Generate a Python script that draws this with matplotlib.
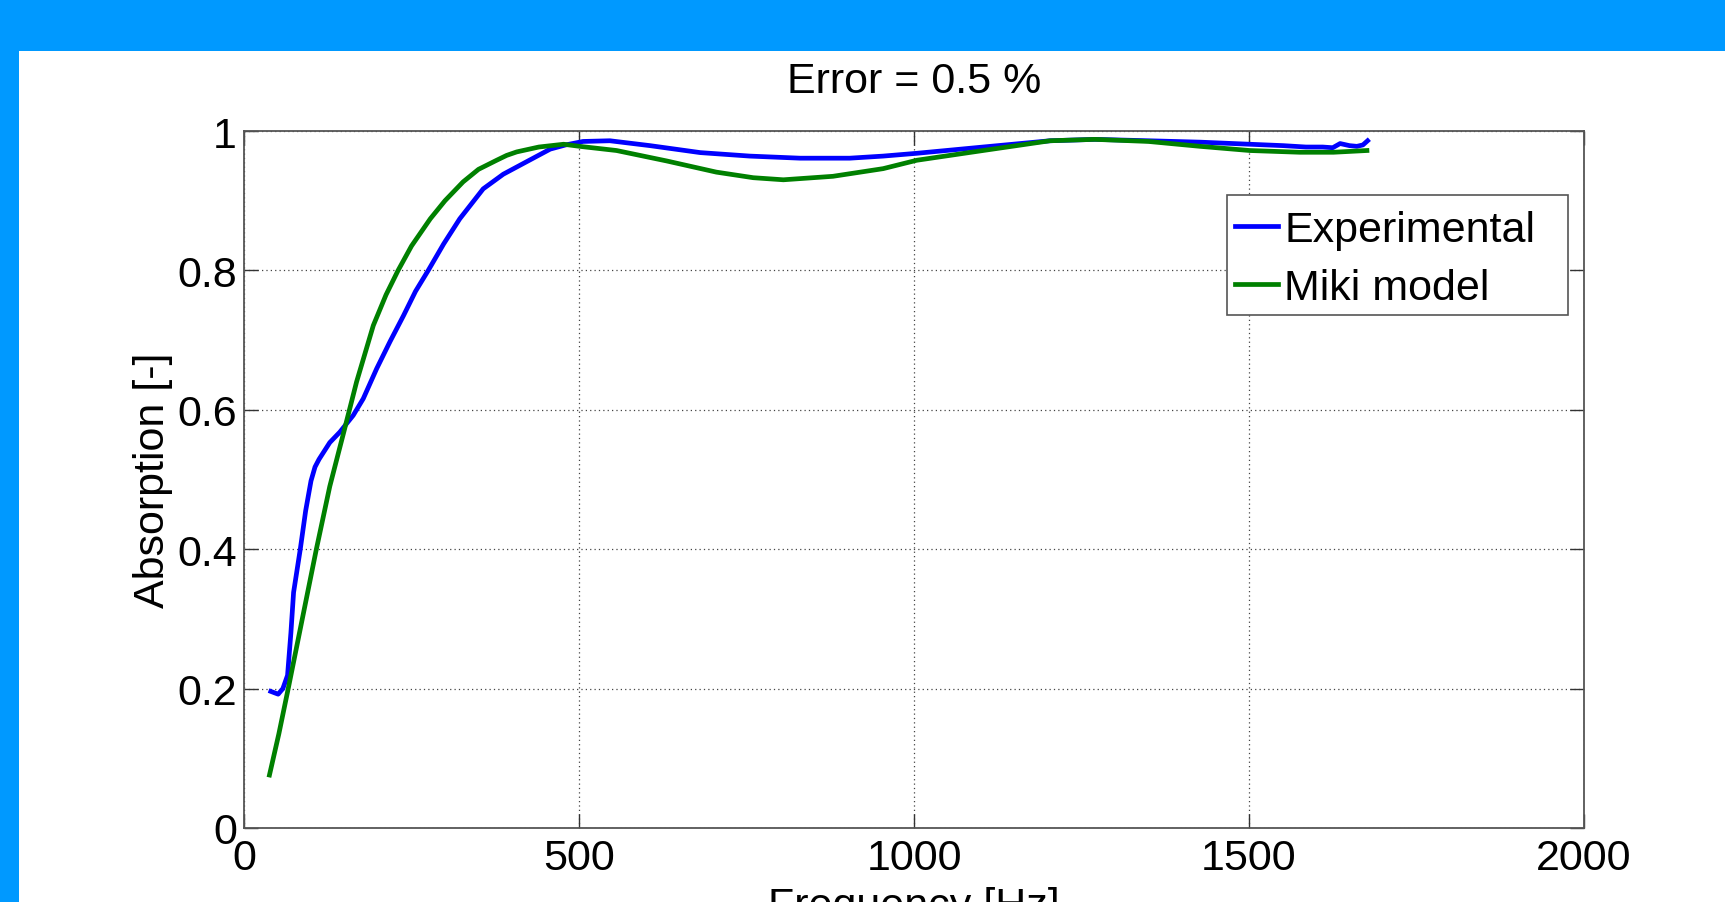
import matplotlib
matplotlib.use("Agg")
import matplotlib.pyplot as plt
from matplotlib.patches import Rectangle

plt.rcParams['font.family'] = ['Liberation Sans', 'DejaVu Sans']

# ---- data ----
exp_freq = [40, 51, 58, 65, 70, 74, 84, 92, 100, 106, 112, 128, 143, 163, 178, 198, 218, 238,
            256, 275, 298, 322, 357, 387, 420, 457, 480, 506, 546, 606, 681, 755, 830, 904,
            954, 1004, 1103, 1203, 1270, 1350, 1427, 1501, 1551, 1585, 1610, 1625, 1636,
            1650, 1661, 1670, 1677]
exp_abs = [0.196, 0.192, 0.200, 0.219, 0.280, 0.338, 0.400, 0.455, 0.498, 0.518, 0.529, 0.553,
           0.568, 0.592, 0.616, 0.659, 0.698, 0.735, 0.770, 0.800, 0.838, 0.874, 0.917, 0.938,
           0.955, 0.974, 0.980, 0.985, 0.986, 0.979, 0.969, 0.964, 0.961, 0.961, 0.964, 0.968,
           0.977, 0.986, 0.988, 0.986, 0.984, 0.981, 0.979, 0.977, 0.977, 0.976, 0.982, 0.979,
           0.978, 0.980, 0.986]

miki_freq = [38, 52, 66, 87, 108, 128, 150, 168, 193, 212, 230, 250, 278, 300, 327, 350, 377,
             392, 407, 440, 477, 501, 556, 631, 705, 760, 805, 879, 954, 1004, 1103, 1203,
             1270, 1350, 1427, 1501, 1576, 1626, 1676]
miki_abs = [0.076, 0.135, 0.200, 0.300, 0.400, 0.490, 0.572, 0.640, 0.721, 0.765, 0.800, 0.835,
            0.874, 0.900, 0.927, 0.945, 0.958, 0.965, 0.970, 0.977, 0.981, 0.978, 0.972, 0.957,
            0.941, 0.933, 0.930, 0.935, 0.946, 0.958, 0.972, 0.986, 0.988, 0.985, 0.978, 0.972,
            0.9695, 0.9695, 0.972]

x_ticks = [0, 500, 1000, 1500, 2000]
x_ticklabels = ['0', '500', '1000', '1500', '2000']
y_ticks = [0, 0.2, 0.4, 0.6, 0.8, 1.0]
y_ticklabels = ['0', '0.2', '0.4', '0.6', '0.8', '1']

title_text = 'Error = 0.5 %'
x_label = 'Frequency [Hz]'
y_label = 'Absorption [-]'
series_labels = ['Experimental', 'Miki model']

# ---- figure ----
W, H = 1725, 903
fig = plt.figure(figsize=(W / 100, H / 100), dpi=100, facecolor='#0099FF')
bg = Rectangle((19 / W, 0), (W - 19) / W, (H - 52) / H,
               transform=fig.transFigure, facecolor='white',
               edgecolor='none', zorder=-10)
fig.add_artist(bg)

ax = fig.add_axes([244 / W, (H - 829) / H, 1340 / W, 697 / H])
ax.set_zorder(1)
ax.set_facecolor('white')

fs = 31
ax.plot(exp_freq, exp_abs, color='#0000FF', lw=3.4, label=series_labels[0], zorder=3)
ax.plot(miki_freq, miki_abs, color='#008000', lw=3.4, label=series_labels[1], zorder=3)

ax.set_xlim(0, 2000)
ax.set_ylim(0, 1)
ax.set_xticks(x_ticks)
ax.set_xticklabels(x_ticklabels)
ax.set_yticks(y_ticks)
ax.set_yticklabels(y_ticklabels)

ax.tick_params(axis='both', which='major', direction='in', length=10, width=1,
               color='#333333', labelsize=fs, top=True, right=True)
ax.tick_params(axis='x', pad=7)
ax.tick_params(axis='y', pad=5)

ax.grid(True, color='#444444', linestyle=(0, (1, 2.5)), linewidth=0.9)
for s in ax.spines.values():
    s.set_color('#555555')
    s.set_linewidth(1.3)

ax.set_title(title_text, fontsize=fs, pad=28)
ax.set_xlabel(x_label, fontsize=fs, labelpad=6)
ax.set_ylabel(y_label, fontsize=fs, labelpad=3)

# legend box (MATLAB-style, extra room on the right)
legend_box = Rectangle((0.7336, 0.736), 0.9881 - 0.7336, 0.908 - 0.736,
                       transform=ax.transAxes, facecolor='white',
                       edgecolor='#555555', linewidth=1.2, zorder=5)
ax.add_patch(legend_box)

leg = ax.legend(loc='upper left', bbox_to_anchor=(0.7396, 0.887), fontsize=fs,
                frameon=False, handlelength=1.0, handletextpad=0.14, borderpad=0,
                labelspacing=0.42, borderaxespad=0)
leg.set_zorder(6)

fig.savefig('out.png', dpi=100, facecolor=fig.get_facecolor())
